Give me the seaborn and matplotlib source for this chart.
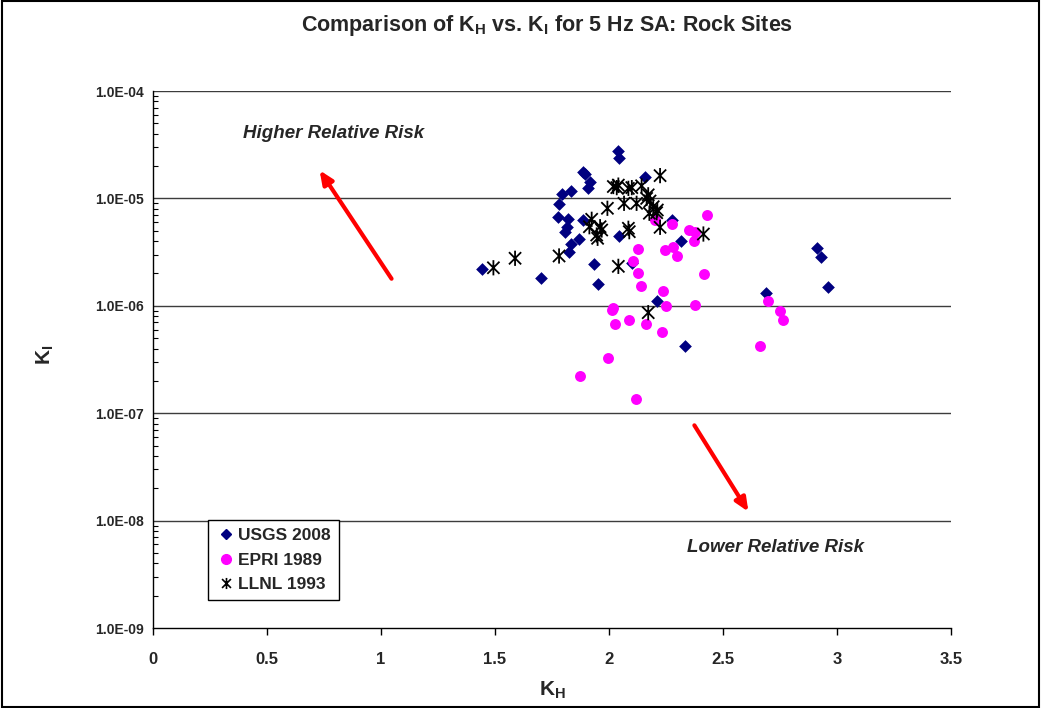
import numpy as np
import pandas as pd
import matplotlib
matplotlib.use("Agg")
import matplotlib.pyplot as plt
from matplotlib import font_manager
from matplotlib.path import Path
from matplotlib.patches import Rectangle
from matplotlib.lines import Line2D
from matplotlib.ticker import FuncFormatter, LogLocator, NullFormatter
import seaborn as sns

# ---------------- data ----------------
usgs_kh = [1.443, 1.702, 1.778, 1.781, 1.793, 1.832, 1.807, 1.814, 1.821, 1.832,
           1.825, 1.870, 1.886, 1.886, 1.895, 1.909, 1.917, 1.933, 1.950, 2.041,
           2.044, 2.044, 2.158, 2.101, 2.212, 2.277, 2.317, 2.333, 2.687, 2.914,
           2.928, 2.962]
usgs_ki = [2.20e-6, 1.82e-6, 6.76e-6, 8.87e-6, 1.11e-5, 1.16e-5, 4.90e-6, 5.45e-6, 6.39e-6, 3.80e-6,
           3.17e-6, 4.19e-6, 6.29e-6, 1.76e-5, 1.69e-5, 1.26e-5, 1.43e-5, 2.43e-6, 1.60e-6, 2.76e-5,
           2.38e-5, 4.51e-6, 1.57e-5, 2.52e-6, 1.12e-6, 6.29e-6, 3.97e-6, 4.22e-7, 1.31e-6, 3.43e-6,
           2.86e-6, 1.51e-6]

epri_kh = [1.871, 1.997, 2.015, 2.019, 2.026, 2.086, 2.107, 2.129, 2.129, 2.142,
           2.120, 2.161, 2.200, 2.231, 2.238, 2.250, 2.246, 2.282, 2.275, 2.300,
           2.351, 2.377, 2.374, 2.376, 2.418, 2.432, 2.662, 2.699, 2.750, 2.763]
epri_ki = [2.22e-7, 3.29e-7, 9.14e-7, 9.48e-7, 6.73e-7, 7.38e-7, 2.61e-6, 3.38e-6, 2.03e-6, 1.53e-6,
           1.35e-7, 6.77e-7, 6.29e-6, 5.67e-7, 1.37e-6, 1.00e-6, 3.34e-6, 3.53e-6, 5.81e-6, 2.90e-6,
           5.08e-6, 4.90e-6, 3.99e-6, 1.02e-6, 1.97e-6, 7.04e-6, 4.18e-7, 1.11e-6, 8.95e-7, 7.33e-7]

llnl_kh = [1.493, 1.588, 1.781, 1.924, 1.914, 1.961, 1.946, 1.950, 1.968, 1.993,
           2.019, 2.034, 2.041, 2.041, 2.066, 2.085, 2.100, 2.085, 2.089, 2.121,
           2.143, 2.172, 2.165, 2.180, 2.194, 2.177, 2.212, 2.224, 2.224, 2.172,
           2.414, 2.209]
llnl_ki = [2.26e-6, 2.77e-6, 2.91e-6, 6.39e-6, 5.45e-6, 5.45e-6, 4.56e-6, 4.25e-6, 5.08e-6, 8.09e-6,
           1.29e-5, 1.26e-5, 1.33e-5, 2.33e-6, 9.00e-6, 1.24e-5, 1.26e-5, 5.27e-6, 4.90e-6, 9.00e-6,
           1.31e-5, 1.08e-5, 1.00e-5, 9.46e-6, 8.37e-6, 7.27e-6, 7.80e-6, 1.63e-5, 5.38e-6, 8.63e-7,
           4.66e-6, 7.36e-6]

series_names = ["USGS 2008", "EPRI 1989", "LLNL 1993"]
x_ticks = [0, 0.5, 1, 1.5, 2, 2.5, 3, 3.5]
y_ticks = [1e-9, 1e-8, 1e-7, 1e-6, 1e-5, 1e-4]

# ---------------- style ----------------
sns.set_style("white")


def pick_family():
    for fam in ["Liberation Sans", "Arimo", "Roboto", "Noto Sans", "Open Sans", "DejaVu Sans"]:
        try:
            f = font_manager.findfont(font_manager.FontProperties(family=fam, weight="bold"),
                                      fallback_to_default=False)
        except Exception:
            continue
        name = f.lower()
        if "bold" in name and "semi" not in name:
            return fam
    return "DejaVu Sans"


FAM = pick_family()
plt.rcParams["font.family"] = [FAM, "DejaVu Sans"]
plt.rcParams["font.weight"] = "bold"
plt.rcParams["mathtext.default"] = "regular"

W, H = 1041, 708
fig = plt.figure(figsize=(W / 100, H / 100), dpi=100)
fig.patch.set_facecolor("white")
ax = fig.add_axes([153 / W, 1 - 628 / H, (951 - 153) / W, (628 - 91) / H])

star = Path([(-1, -1), (1, 1), (-1, 1), (1, -1), (0, -1.25), (0, 1.25)],
            [Path.MOVETO, Path.LINETO, Path.MOVETO, Path.LINETO, Path.MOVETO, Path.LINETO])

df_u = pd.DataFrame({"KH": usgs_kh, "KI": usgs_ki})
df_e = pd.DataFrame({"KH": epri_kh, "KI": epri_ki})
df_l = pd.DataFrame({"KH": llnl_kh, "KI": llnl_ki})

sns.scatterplot(data=df_u, x="KH", y="KI", ax=ax, marker="D", s=42,
                color="#000080", edgecolor="#000080", linewidth=0, zorder=3)
sns.scatterplot(data=df_e, x="KH", y="KI", ax=ax, marker="o", s=62,
                color="#FF00FF", edgecolor="#FF00FF", linewidth=0, zorder=4)
ax.scatter(df_l["KH"], df_l["KI"], marker=star, s=120, facecolors="none",
           edgecolors="black", linewidths=1.3, zorder=5)

ax.set_yscale("log")
ax.set_xlim(0, 3.5)
ax.set_ylim(1e-9, 1e-4)
ax.set_xticks(x_ticks)
ax.set_xticklabels([("%g" % t) for t in x_ticks])
ax.set_yticks(y_ticks)
ax.yaxis.set_major_formatter(FuncFormatter(lambda v, p: "%.1E" % v))
ax.yaxis.set_minor_locator(LogLocator(base=10, subs=np.arange(2, 10)))
ax.yaxis.set_minor_formatter(NullFormatter())

for lab in ax.get_yticklabels():
    lab.set_fontweight("bold")
    lab.set_fontsize(10)
for lab in ax.get_xticklabels():
    lab.set_fontweight("bold")
    lab.set_fontsize(12)

ax.tick_params(axis="y", which="major", direction="inout", length=7, width=1, color="black", pad=3)
ax.tick_params(axis="y", which="minor", direction="in", length=3.5, width=0.8, color="black", left=True)
ax.tick_params(axis="x", which="major", direction="out", length=5, width=1, color="black",
               bottom=True, pad=12)

ax.grid(False)
for v in y_ticks[1:]:
    ax.axhline(v, color="#3c3c3c", linewidth=1.0, zorder=1)
for side in ["top", "right"]:
    ax.spines[side].set_visible(False)
for side in ["left", "bottom"]:
    ax.spines[side].set_color("black")
    ax.spines[side].set_linewidth(1.0)

ax.set_xlabel("")
ax.set_ylabel("")
fig.text(552 / W, 1 - 690 / H, r"K$_\mathregular{H}$", ha="center", va="center",
         fontsize=15, fontweight="bold")
fig.text(45 / W, 1 - 355 / H, r"K$_\mathregular{I}$", ha="center", va="center",
         fontsize=15, fontweight="bold", rotation=90)
fig.text(547 / W, 1 - 25 / H,
         r"Comparison of K$_\mathregular{H}$ vs. K$_\mathregular{I}$ for 5 Hz SA: Rock Sites",
         ha="center", va="center", fontsize=15.5, fontweight="bold")

# annotations
ax.annotate("", xy=(0.724, 1.92e-5), xytext=(1.053, 1.70e-6),
            arrowprops=dict(arrowstyle="-|>,head_length=0.8,head_width=0.35", color="#FF0000", lw=3))
ax.annotate("", xy=(2.618, 1.15e-8), xytext=(2.368, 8.11e-8),
            arrowprops=dict(arrowstyle="-|>,head_length=0.8,head_width=0.35", color="#FF0000", lw=3))
ax.text(0.792, 3.98e-5, "Higher Relative Risk", ha="center", va="center",
        fontsize=13.5, fontweight="bold", style="italic")
ax.text(2.732, 5.56e-9, "Lower Relative Risk", ha="center", va="center",
        fontsize=13.5, fontweight="bold", style="italic")

# legend
handles = [
    Line2D([], [], linestyle="none", marker="D", markersize=5, color="#000080"),
    Line2D([], [], linestyle="none", marker="o", markersize=7, color="#FF00FF"),
    Line2D([], [], linestyle="none", marker=star, markersize=8, markerfacecolor="none",
           markeredgecolor="black", markeredgewidth=1.2),
]
leg = ax.legend(handles, series_names, loc="upper left",
                bbox_to_anchor=((208 - 153) / (951 - 153), 1 - (520 - 91) / (628 - 91)),
                frameon=True, fancybox=False, edgecolor="black", framealpha=1,
                prop={"weight": "bold", "size": 12.5}, handletextpad=0.1,
                handlelength=1.2, borderpad=0.45, labelspacing=0.55, borderaxespad=0)
leg.get_frame().set_linewidth(1.0)

# chart-area border
fig.patches.append(Rectangle((0.002, 0.002), 0.996, 0.996, transform=fig.transFigure,
                             fill=False, edgecolor="black", linewidth=1.5))

fig.savefig("out.png", dpi=100, facecolor="white")
